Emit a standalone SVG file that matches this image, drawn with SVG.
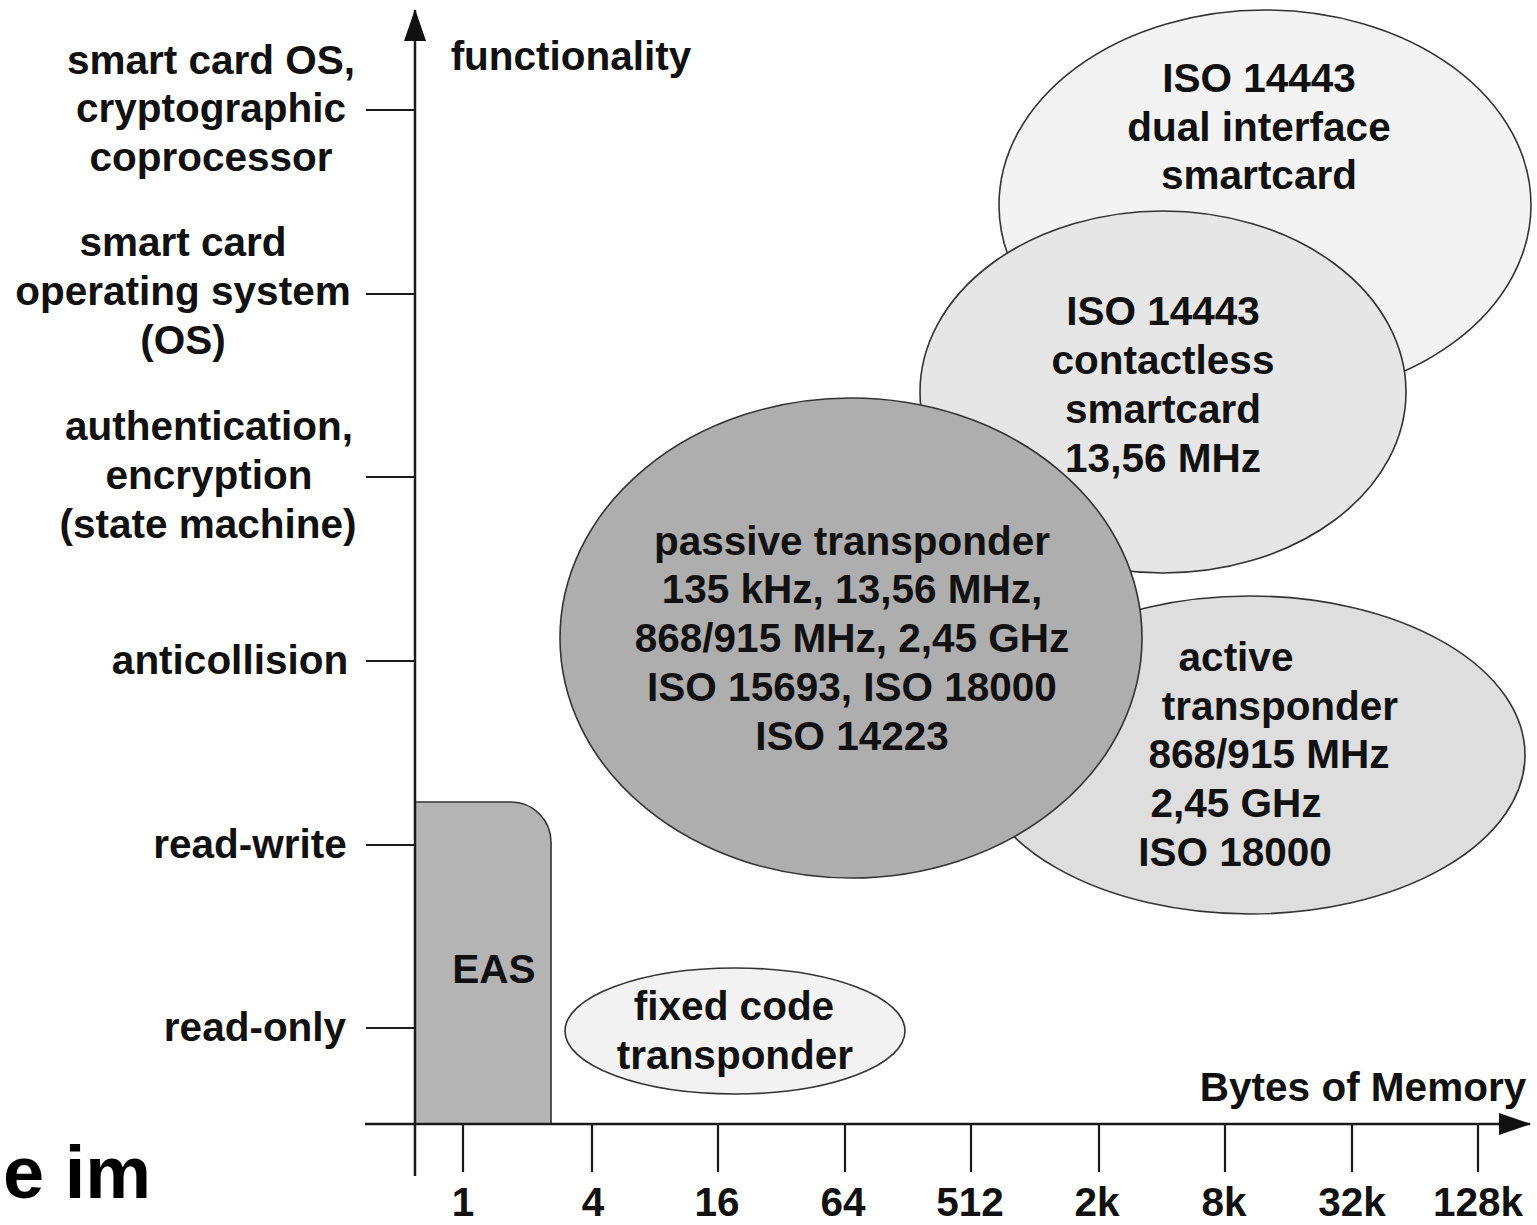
<svg xmlns="http://www.w3.org/2000/svg" width="1537" height="1225" viewBox="0 0 1537 1225">
  <style>
    .lbl { font-family: "Liberation Sans", Arial, sans-serif; font-weight: bold; font-size: 40.5px; fill: #111; text-anchor: middle; }
    .axis { stroke: #1a1a1a; stroke-width: 2.5; fill: none; }
    .tick { stroke: #1a1a1a; stroke-width: 2.2; fill: none; }
    .blob { stroke: #333; stroke-width: 1.6; }
  </style>
  <defs>
    <!-- solid triangular head, tip at the end of the line -->
    <marker id="arrowHead" viewBox="0 0 32 22" refX="31" refY="11" markerWidth="32" markerHeight="22" markerUnits="userSpaceOnUse" orient="auto">
      <path d="M0 0 L32 11 L0 22 Z" fill="#111"/>
    </marker>
  </defs>
  <rect width="1537" height="1225" fill="#fff"/>

  <!-- technology regions, back to front -->
  <g id="dual-interface">
    <ellipse class="blob" cx="1265" cy="205" rx="266" ry="195" fill="#f3f3f3"/>
    <text class="lbl" x="1259" y="92">ISO 14443</text>
    <text class="lbl" x="1259" y="141">dual interface</text>
    <text class="lbl" x="1259" y="189">smartcard</text>
  </g>
  <g id="contactless">
    <ellipse class="blob" cx="1163" cy="392" rx="243" ry="181" fill="#e6e6e6"/>
    <text class="lbl" x="1163" y="325">ISO 14443</text>
    <text class="lbl" x="1163" y="374">contactless</text>
    <text class="lbl" x="1163" y="423">smartcard</text>
    <text class="lbl" x="1163" y="472">13,56 MHz</text>
  </g>
  <g id="active">
    <ellipse class="blob" cx="1250" cy="755" rx="275" ry="159" fill="#dedede"/>
    <text class="lbl" x="1236" y="671">active</text>
    <text class="lbl" x="1280" y="720">transponder</text>
    <text class="lbl" x="1269" y="768">868/915 MHz</text>
    <text class="lbl" x="1236" y="817">2,45 GHz</text>
    <text class="lbl" x="1235" y="866">ISO 18000</text>
  </g>
  <g id="passive">
    <ellipse class="blob" cx="851" cy="638" rx="291" ry="240" fill="#aeaeae"/>
    <text class="lbl" x="852" y="555">passive transponder</text>
    <text class="lbl" x="852" y="603">135 kHz, 13,56 MHz,</text>
    <text class="lbl" x="852" y="652">868/915 MHz, 2,45 GHz</text>
    <text class="lbl" x="852" y="701">ISO 15693, ISO 18000</text>
    <text class="lbl" x="852" y="750">ISO 14223</text>
  </g>
  <g id="fixed-code">
    <ellipse class="blob" cx="735" cy="1031" rx="170" ry="63" fill="#f2f2f2"/>
    <text class="lbl" x="734" y="1020">fixed code</text>
    <text class="lbl" x="735" y="1069">transponder</text>
  </g>
  <g id="eas">
    <path class="blob" d="M415 802 H511 A40 40 0 0 1 551 842 V1124 H415 Z" fill="#b4b4b4"/>
    <text class="lbl" x="494" y="983">EAS</text>
  </g>

  <!-- axes, ticks and scale labels -->
  <g id="connectors">
    <line class="axis" x1="415" y1="1176" x2="415" y2="10" marker-end="url(#arrowHead)"/>
    <line class="axis" x1="365" y1="1124" x2="1530" y2="1124" marker-end="url(#arrowHead)"/>
    <!-- functionality levels -->
    <line class="tick" x1="366" y1="110" x2="415" y2="110"/>
    <line class="tick" x1="366" y1="294" x2="415" y2="294"/>
    <line class="tick" x1="366" y1="477" x2="415" y2="477"/>
    <line class="tick" x1="366" y1="661" x2="415" y2="661"/>
    <line class="tick" x1="366" y1="845" x2="415" y2="845"/>
    <line class="tick" x1="366" y1="1028" x2="415" y2="1028"/>
    <!-- memory steps -->
    <line class="tick" x1="463" y1="1124" x2="463" y2="1172"/>
    <line class="tick" x1="592" y1="1124" x2="592" y2="1172"/>
    <line class="tick" x1="718" y1="1124" x2="718" y2="1172"/>
    <line class="tick" x1="845" y1="1124" x2="845" y2="1172"/>
    <line class="tick" x1="971" y1="1124" x2="971" y2="1172"/>
    <line class="tick" x1="1099" y1="1124" x2="1099" y2="1172"/>
    <line class="tick" x1="1225" y1="1124" x2="1225" y2="1172"/>
    <line class="tick" x1="1352" y1="1124" x2="1352" y2="1172"/>
    <line class="tick" x1="1478" y1="1124" x2="1478" y2="1172"/>
  </g>

  <g id="axis-titles">
    <text class="lbl" x="571" y="70">functionality</text>
    <text class="lbl" x="1363" y="1101">Bytes of Memory</text>
  </g>

  <g id="level-labels">
    <text class="lbl" x="211" y="74">smart card OS,</text>
    <text class="lbl" x="211" y="122">cryptographic</text>
    <text class="lbl" x="211" y="171">coprocessor</text>
    <text class="lbl" x="183" y="256">smart card</text>
    <text class="lbl" x="183" y="305">operating system</text>
    <text class="lbl" x="183" y="354">(OS)</text>
    <text class="lbl" x="209" y="440">authentication,</text>
    <text class="lbl" x="209" y="489">encryption</text>
    <text class="lbl" x="208" y="538">(state machine)</text>
    <text class="lbl" x="230" y="674">anticollision</text>
    <text class="lbl" x="250" y="858">read-write</text>
    <text class="lbl" x="255" y="1041">read-only</text>
  </g>

  <g id="memory-labels">
    <text class="lbl" x="463" y="1216">1</text>
    <text class="lbl" x="593" y="1216">4</text>
    <text class="lbl" x="717" y="1216">16</text>
    <text class="lbl" x="843" y="1216">64</text>
    <text class="lbl" x="970" y="1216">512</text>
    <text class="lbl" x="1097" y="1216">2k</text>
    <text class="lbl" x="1224" y="1216">8k</text>
    <text class="lbl" x="1352" y="1216">32k</text>
    <text class="lbl" x="1478" y="1216">128k</text>
  </g>

  <text x="3" y="1198" font-family="Liberation Sans, Arial, sans-serif" font-weight="bold" font-size="74" fill="#000">e im</text>
</svg>
